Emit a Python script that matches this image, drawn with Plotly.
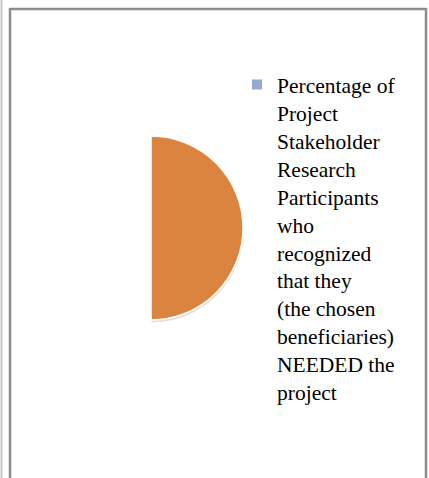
import plotly.graph_objects as go

# Data
slice_labels = ["Percentage of Project Stakeholder Research Participants who recognized that they (the chosen beneficiaries) NEEDED the project", ""]
slice_values = [50, 50]
legend_label = "Percentage of<br>Project<br>Stakeholder<br>Research<br>Participants<br>who<br>recognized<br>that they<br>(the chosen<br>beneficiaries)<br>NEEDED the<br>project"

W, H = 429, 478
cx, cy, r = 151, 228, 92

def dom(cx, cy, r):
    return dict(x=[(cx - r) / W, (cx + r) / W],
                y=[(H - cy - r) / H, (H - cy + r) / H])

fig = go.Figure()
# soft shadow
fig.add_trace(go.Pie(
    labels=slice_labels, values=slice_values, sort=False, direction="clockwise",
    rotation=0, textinfo="none", hoverinfo="skip", showlegend=False,
    marker=dict(colors=["rgba(120,120,120,0.22)", "rgba(0,0,0,0)"], line=dict(width=0)),
    domain=dom(cx + 0.5, cy + 2.5, r),
))
fig.add_trace(go.Pie(
    labels=slice_labels, values=slice_values, sort=False, direction="clockwise",
    rotation=0, textinfo="none", showlegend=False,
    marker=dict(colors=["#DA843F", "rgba(0,0,0,0)"],
                line=dict(color=["#FFFFFF", "rgba(0,0,0,0)"], width=1.5)),
    domain=dom(cx, cy, r),
))
# legend entry
fig.add_trace(go.Scatter(
    x=[None], y=[None], mode="markers", name=legend_label,
    marker=dict(symbol="square", size=10, color="#94A9D1"),
    showlegend=True,
))

frame = "#8C8C8C"
fig.update_layout(
    width=W, height=H, autosize=False,
    margin=dict(l=0, r=0, t=0, b=0),
    paper_bgcolor="white", plot_bgcolor="white",
    xaxis=dict(visible=False), yaxis=dict(visible=False),
    legend=dict(x=237 / W, xanchor="left", y=1 - 64 / H, yanchor="top",
                valign="top", bgcolor="rgba(0,0,0,0)",
                font=dict(family="Liberation Serif, Times New Roman, serif", size=21.5, color="#000000")),
    shapes=[
        dict(type="line", xref="paper", yref="paper", x0=1.5 / W, x1=1.5 / W, y0=0, y1=1,
             line=dict(color="#C8C8C8", width=2)),
        dict(type="line", xref="paper", yref="paper", x0=10 / W, x1=10 / W, y0=0, y1=1 - 8 / H,
             line=dict(color=frame, width=2.5)),
        dict(type="line", xref="paper", yref="paper", x0=10 / W, x1=426 / W, y0=1 - 9 / H, y1=1 - 9 / H,
             line=dict(color=frame, width=2.5)),
        dict(type="line", xref="paper", yref="paper", x0=426 / W, x1=426 / W, y0=0, y1=1 - 8 / H,
             line=dict(color=frame, width=2.5)),
    ],
)

fig.write_html("out.html")
